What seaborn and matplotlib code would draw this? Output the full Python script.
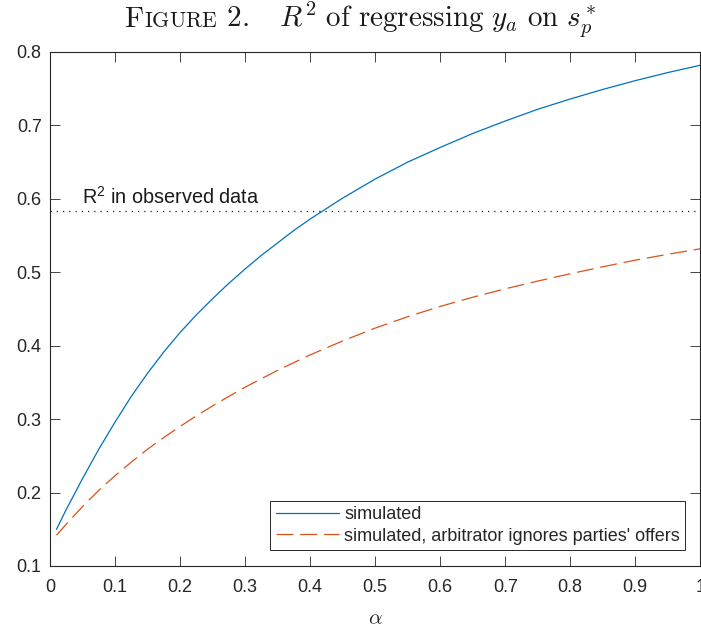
import numpy as np
import pandas as pd
import matplotlib
matplotlib.use("Agg")
import matplotlib.pyplot as plt
import seaborn as sns
from matplotlib.offsetbox import TextArea, HPacker, AnchoredOffsetbox
from matplotlib.ticker import FormatStrFormatter

# ---- data ----
alpha = [0.01, 0.025, 0.05, 0.075, 0.10, 0.125, 0.15, 0.175, 0.20, 0.225, 0.25, 0.275,
         0.30, 0.325, 0.35, 0.375, 0.40, 0.45, 0.50, 0.55, 0.60, 0.65, 0.70, 0.75,
         0.80, 0.85, 0.90, 0.95, 1.00]
r2_simulated = [0.150, 0.177, 0.219, 0.259, 0.296, 0.331, 0.3625, 0.3915, 0.418, 0.442,
                0.464, 0.485, 0.5045, 0.523, 0.540, 0.557, 0.5725, 0.601, 0.627, 0.650,
                0.670, 0.689, 0.706, 0.722, 0.736, 0.749, 0.761, 0.772, 0.782]
r2_ignores = [0.142, 0.157, 0.181, 0.203, 0.223, 0.2415, 0.259, 0.275, 0.290, 0.3045,
              0.318, 0.331, 0.3435, 0.355, 0.3665, 0.377, 0.3875, 0.4065, 0.424, 0.4395,
              0.4535, 0.466, 0.4775, 0.488, 0.498, 0.5075, 0.5165, 0.5245, 0.532]
r2_observed = 0.584
series_labels = ["simulated", "simulated, arbitrator ignores parties' offers"]
xticks = [0, 0.1, 0.2, 0.3, 0.4, 0.5, 0.6, 0.7, 0.8, 0.9, 1.0]
yticks = [0.1, 0.2, 0.3, 0.4, 0.5, 0.6, 0.7, 0.8]

sns.set_theme(style="ticks")
plt.rcParams['font.family'] = ['Liberation Sans', 'DejaVu Sans']
plt.rcParams['mathtext.fontset'] = 'custom'
plt.rcParams['mathtext.rm'] = 'Liberation Sans'
plt.rcParams['mathtext.it'] = 'Liberation Sans:italic'
plt.rcParams['mathtext.bf'] = 'Liberation Sans:bold'

dark = '#262626'
fig = plt.figure(figsize=(7.01, 6.29), dpi=100)
ax = fig.add_axes([50 / 701, 63 / 629, 650.3 / 701, 514 / 629])

df = pd.DataFrame({"alpha": alpha, "sim": r2_simulated, "ign": r2_ignores})
sns.lineplot(data=df, x="alpha", y="sim", ax=ax, color="#0072BD", lw=0.9,
             label=series_labels[0])
sns.lineplot(data=df, x="alpha", y="ign", ax=ax, color="#D95319", lw=0.9,
             linestyle=(0, (13.5, 5.5)), label=series_labels[1])
ax.axhline(r2_observed, color='k', lw=0.9, linestyle=(0, (1, 4)))
ax.text(0.049, r2_observed + 0.0095, r"R$^2$ in observed data", fontsize=14.3,
        va='baseline', ha='left', color='#1a1a1a')

ax.set_xlim(0, 1)
ax.set_ylim(0.1, 0.8)
ax.set_xticks(xticks)
ax.set_yticks(yticks)
ax.xaxis.set_major_formatter(FormatStrFormatter('%g'))
ax.yaxis.set_major_formatter(FormatStrFormatter('%g'))
ax.tick_params(direction='in', length=7, width=0.6, top=True, right=True,
               labelsize=13, color=dark, labelcolor=dark)
ax.tick_params(axis='x', pad=9)
ax.tick_params(axis='y', pad=6)
for s in ax.spines.values():
    s.set_visible(True)
    s.set_linewidth(0.8)
    s.set_color(dark)

ax.set_xlabel(r"$\alpha$", math_fontfamily='cm', fontsize=15, labelpad=10, color=dark)
ax.set_ylabel("")

leg = ax.legend(loc='lower right', bbox_to_anchor=(0.977, 0.031), borderaxespad=0,
                fontsize=13, frameon=True, fancybox=False, framealpha=1,
                edgecolor=dark, handlelength=3.5, handletextpad=0.3,
                labelspacing=0.25, borderpad=0.3)
leg.get_frame().set_linewidth(0.7)
for t in leg.get_texts():
    t.set_color(dark)

# ---- title with small caps ----
F = 21
tp = dict(math_fontfamily='cm', color='k')
pieces = [
    TextArea(r"$\mathrm{F}$", textprops=dict(fontsize=F, **tp)),
    TextArea(r"$\mathrm{IGURE}$", textprops=dict(fontsize=F * 0.75, **tp)),
    TextArea(r"$\mathrm{\ 2.}\quad R^2\ \mathrm{of\ regressing}\ y_a\ \mathrm{on}\ s_p^*$",
             textprops=dict(fontsize=F, **tp)),
]
box = HPacker(children=pieces, align="baseline", pad=0, sep=0)
anch = AnchoredOffsetbox(loc='center', child=box, frameon=False, pad=0, borderpad=0,
                         bbox_to_anchor=(360 / 701, 1 - 20 / 629),
                         bbox_transform=fig.transFigure)
fig.add_artist(anch)

fig.savefig("out.png", dpi=100)
